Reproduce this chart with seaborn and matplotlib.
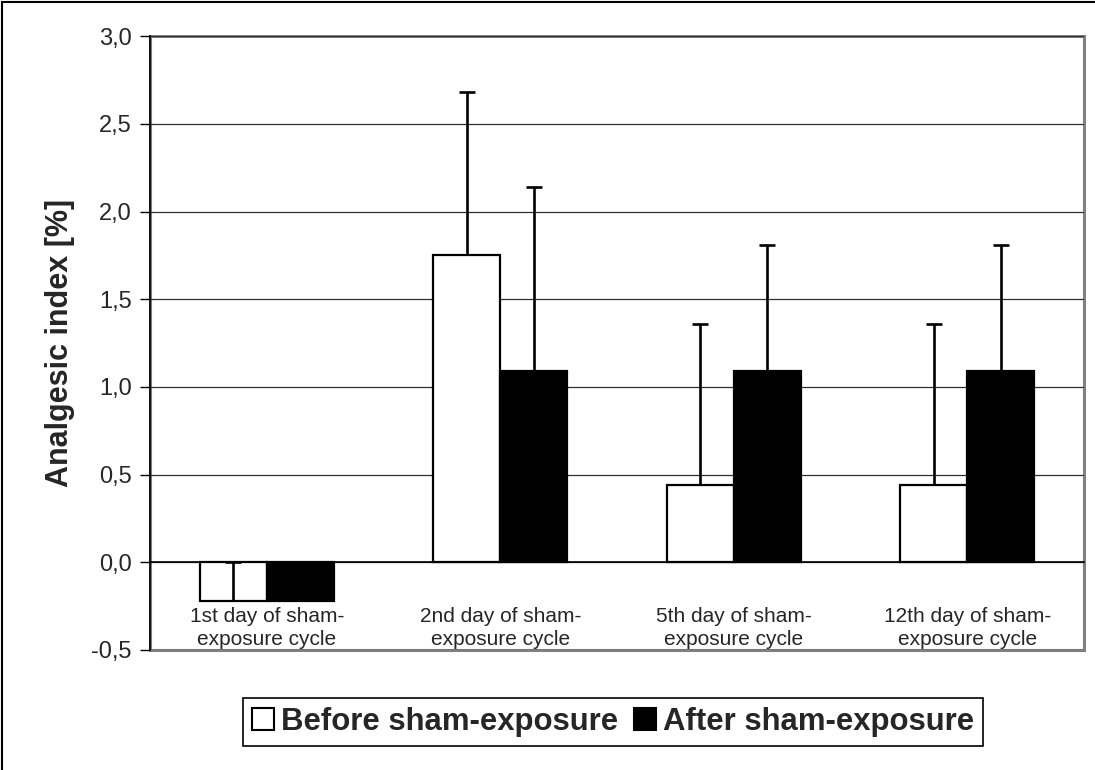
import pandas as pd
import seaborn as sns
import matplotlib.pyplot as plt
import numpy as np
from matplotlib.patches import Rectangle

# data
days = ['1st day of sham-\nexposure cycle', '2nd day of sham-\nexposure cycle',
        '5th day of sham-\nexposure cycle', '12th day of sham-\nexposure cycle']
groups = ['Before sham-exposure', 'After sham-exposure']
before = [-0.22, 1.75, 0.44, 0.44]
after = [-0.22, 1.09, 1.09, 1.09]
before_err = [0.22, 0.93, 0.92, 0.92]
after_err = [0.22, 1.05, 0.72, 0.72]
yticks = [-0.5, 0.0, 0.5, 1.0, 1.5, 2.0, 2.5, 3.0]

df = pd.DataFrame({
    'day': days * 2,
    'group': [groups[0]] * 4 + [groups[1]] * 4,
    'value': before + after,
    'err': before_err + after_err,
})

sns.set_style('white')
plt.rcParams['font.family'] = ['Liberation Sans', 'DejaVu Sans']

fig = plt.figure(figsize=(10.95, 7.7), dpi=100)
ax = fig.add_axes([0.137, 0.156, 0.853, 0.797])

ax.yaxis.grid(True, color='#303030', linewidth=0.9)
ax.set_axisbelow(True)

sns.barplot(data=df, x='day', y='value', hue='group', order=days, hue_order=groups,
            palette={groups[0]: 'white', groups[1]: 'black'}, edgecolor='black',
            linewidth=1.6, width=0.575, errorbar=None, ax=ax)

# positive-only error bars at the bar centres, cap only on the upper end
for cont, errs in zip(ax.containers, [before_err, after_err]):
    xs = [p.get_x() + p.get_width() / 2 for p in cont.patches]
    ys = [p.get_height() for p in cont.patches]
    eb = ax.errorbar(xs, ys, yerr=[np.zeros(len(errs)), errs], fmt='none', ecolor='black',
                     elinewidth=1.9, capsize=5.8, capthick=1.9, zorder=5)
    eb[1][0].set_visible(False)

ax.set_ylim(-0.5, 3.0)
ax.set_xlim(-0.5, 3.5)
ax.set_yticks(yticks)
ax.set_yticklabels([f'{v:.1f}'.replace('.', ',') for v in yticks], fontsize=17)
ax.tick_params(axis='y', direction='out', length=7, width=1, color='black', left=True, pad=6)

# x axis crossing at zero, ticks between categories
ax.spines['bottom'].set_position(('data', 0))
ax.spines['bottom'].set_color('black')
ax.spines['bottom'].set_linewidth(1.2)
ax.set_xticks(np.arange(-0.5, 4.0, 1.0), minor=True)
ax.tick_params(axis='x', which='minor', direction='out', length=6, width=1, color='black')
ax.tick_params(axis='x', which='major', length=0, pad=32, labelsize=15)
for lab in ax.get_xticklabels():
    lab.set_linespacing(1.32)

ax.spines['left'].set_color('black')
ax.spines['left'].set_linewidth(1.2)
ax.spines['top'].set_visible(False)
ax.spines['right'].set_visible(False)
ax.add_patch(Rectangle((0, 0), 1, 1, transform=ax.transAxes, fill=False,
                       edgecolor='#808080', linewidth=2.2, clip_on=False, zorder=0))

ax.set_xlabel('')
ax.set_ylabel('Analgesic index [%]', fontsize=22, fontweight='bold', labelpad=12)

# legend box under the plot
ax.get_legend().remove()
handles = [Rectangle((0, 0), 1, 1, facecolor=c, edgecolor='black', linewidth=1.5)
           for c in ['white', 'black']]
leg = fig.legend(handles, groups, loc='center', bbox_to_anchor=(0.5598, 0.0625), ncol=2,
                 frameon=True, fancybox=False, edgecolor='black', framealpha=1,
                 prop={'size': 22.4, 'weight': 'bold'}, handlelength=0.72, handleheight=0.72,
                 handletextpad=0.22, columnspacing=0.5, borderpad=0.3, borderaxespad=0)
leg.get_frame().set_linewidth(1.2)

# outer chart border (only left and top edges show in the reference)
fig.patches.append(Rectangle((0.002, -0.5), 1.5, 1.497, transform=fig.transFigure,
                             fill=False, edgecolor='black', linewidth=1.5))

fig.savefig('out.png', dpi=100)
